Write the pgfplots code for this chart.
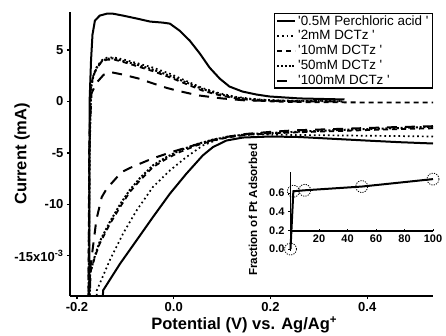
\documentclass[border=0pt]{standalone}
\usepackage{fontspec}
\setmainfont{Liberation Sans}
\usepackage{pgfplots}
\pgfplotsset{compat=1.18}
\begin{document}
\begin{tikzpicture}
\path[use as bounding box] (-70pt,-39pt) rectangle (376pt,296pt);
\begin{axis}[
  at={(0pt,0pt)}, anchor=south west,
  scale only axis, width=363pt, height=284pt,
  xmin=-0.2145, xmax=0.536, ymin=-18.9, ymax=8.7,
  axis lines=left, axis line style={-, line width=1.6pt},
  tick align=outside, major tick length=3pt, tick style={line width=1.2pt, black},
  xtick={-0.2,0,0.2,0.4}, xticklabels={-0.2,0.0,0.2,0.4},
  ytick={-15,-10,-5,0,5}, yticklabels={-15x10\textsuperscript{-3},-10,-5,0,5},
  /pgf/number format/assume math mode=true,
  ticklabel style={font=\bfseries\fontsize{13}{14}\selectfont},
  xlabel={Potential (V) vs. Ag/Ag\textsuperscript{+}},
  ylabel={Current (mA)},
  label style={font=\bfseries\fontsize{16.5}{17}\selectfont},
  xlabel style={at={(axis description cs:0.48,-0.102)}, anchor=center},
  ylabel style={at={(axis description cs:-0.132,0.5)}, anchor=center, rotate=0},
  legend style={at={(1,0.997)}, anchor=north east, draw=black, line width=1.1pt,
    font=\fontsize{13.4}{14.5}\selectfont, inner xsep=2pt, inner ysep=0pt,
    row sep=0pt},
  legend cell align=left,
  legend image code/.code={\draw[#1] (0pt,0pt) -- (18pt,0pt);},
]
% 0.5M perchloric acid
\addplot[black, line width=2pt] coordinates {
(0.536,-4.08) (0.466,-3.95) (0.397,-3.79) (0.328,-3.62) (0.26,-3.45) (0.2,-3.4)
(0.143,-3.5) (0.109,-3.79) (0.081,-4.43) (0.060,-5.24) (0.026,-7.02) (-0.008,-8.96)
(-0.043,-11.23) (-0.077,-13.5) (-0.111,-15.76) (-0.146,-18.35) (-0.152,-25)
(-0.175,-25) (-0.174,0) (-0.171,4) (-0.168,6.5) (-0.163,7.86) (-0.153,8.35)
(-0.138,8.54) (-0.126,8.54) (-0.105,8.35) (-0.076,8.06) (-0.049,7.77) (-0.023,7.67)
(-0.008,7.57) (0.012,6.89) (0.033,5.92) (0.054,4.66) (0.074,3.30) (0.095,2.23)
(0.115,1.46) (0.142,0.97) (0.171,0.68) (0.198,0.49) (0.26,0.3) (0.353,0.2)
};
\addlegendentry{\textquotesingle 0.5M Perchloric acid \textquotesingle}
% 2mM
\addplot[black, line width=1.7pt, dash pattern=on 1.7pt off 3pt] coordinates {
(0.536,-3.4) (0.45,-3.35) (0.35,-3.3) (0.25,-3.25) (0.171,-3.2) (0.129,-3.30)
(0.095,-3.62) (0.060,-4.27) (0.026,-5.4) (-0.008,-6.7) (-0.043,-8.3) (-0.077,-10.6)
(-0.105,-12.85) (-0.132,-15.4) (-0.159,-18.35) (-0.165,-25)
(-0.176,-25) (-0.174,-5) (-0.171,1.5) (-0.166,2.6) (-0.159,3.4) (-0.149,4.0)
(-0.139,4.25) (-0.125,4.3) (-0.105,4.1) (-0.077,3.75) (-0.043,3.3) (-0.008,2.7)
(0.026,2.0) (0.060,1.3) (0.095,0.8) (0.129,0.45) (0.164,0.25) (0.198,0.15)
(0.25,0.08) (0.35,0.05)
};
\addlegendentry{\textquotesingle 2mM DCTz \textquotesingle}
% 10mM
\addplot[black, line width=1.8pt, dash pattern=on 5pt off 4pt] coordinates {
(0.536,-2.6) (0.45,-2.7) (0.35,-2.85) (0.25,-3.0) (0.157,-3.2) (0.115,-3.47)
(0.081,-3.79) (0.047,-4.27) (0.012,-4.92) (-0.015,-5.56) (-0.043,-6.38) (-0.070,-7.67)
(-0.091,-8.8) (-0.111,-10.26) (-0.132,-11.9) (-0.153,-13.8) (-0.163,-15.1)
(-0.173,-16.7) (-0.176,-25)
(-0.177,-25) (-0.175,-5) (-0.172,1.2) (-0.167,2.4) (-0.160,3.2) (-0.150,3.8)
(-0.139,4.05) (-0.125,4.1) (-0.105,3.85) (-0.077,3.45) (-0.043,2.95) (-0.008,2.35)
(0.026,1.7) (0.060,1.05) (0.095,0.6) (0.129,0.3) (0.164,0.12) (0.198,0.02)
(0.25,-0.05) (0.35,-0.08) (0.45,-0.1) (0.536,-0.1)
};
\addlegendentry{\textquotesingle 10mM DCTz \textquotesingle}
% 50mM
\addplot[black, line width=2pt, dash pattern=on 2pt off 1.8pt] coordinates {
(0.536,-2.45) (0.45,-2.6) (0.35,-2.75) (0.25,-2.95) (0.157,-3.15) (0.115,-3.4)
(0.081,-3.7) (0.047,-4.15) (0.012,-4.75) (-0.015,-5.4) (-0.043,-6.2) (-0.070,-7.45)
(-0.091,-8.6) (-0.111,-10.0) (-0.132,-11.7) (-0.153,-13.6) (-0.163,-15.0)
(-0.173,-16.7) (-0.176,-25)
(-0.177,-25) (-0.174,-5) (-0.171,1.3) (-0.166,2.5) (-0.159,3.3) (-0.149,3.9)
(-0.139,4.15) (-0.125,4.2) (-0.105,3.95) (-0.077,3.6) (-0.043,3.1) (-0.008,2.5)
(0.026,1.85) (0.060,1.2) (0.095,0.7) (0.129,0.38) (0.164,0.2) (0.198,0.1)
(0.25,0.05) (0.35,0.02)
};
\addlegendentry{\textquotesingle 50mM DCTz \textquotesingle}
% 100mM
\addplot[black, line width=2pt, dash pattern=on 10pt off 8pt] coordinates {
(0.536,-2.4) (0.45,-2.5) (0.35,-2.65) (0.25,-2.8) (0.2,-2.95) (0.15,-3.15)
(0.1,-3.5) (0.06,-4.0) (0.006,-4.76) (-0.015,-5.08) (-0.036,-5.41) (-0.054,-5.73)
(-0.087,-6.38) (-0.108,-6.86) (-0.139,-8.5) (-0.149,-9.3) (-0.16,-11.5)
(-0.172,-16) (-0.176,-25)
(-0.177,-25) (-0.174,-3) (-0.17,0.8) (-0.16,1.8) (-0.145,2.6) (-0.13,2.85)
(-0.105,2.62) (-0.07,2.2) (-0.05,1.87) (-0.015,1.33) (0.006,1.07) (0.05,0.6)
(0.1,0.3) (0.15,0.1) (0.25,0.02) (0.35,0.0)
};
\addlegendentry{\textquotesingle 100mM DCTz \textquotesingle}
\end{axis}
% inset: data and y axis
\begin{axis}[
  at={(220.5pt,45.1pt)}, anchor=south west,
  scale only axis, width=142.5pt, height=78.8pt,
  xmin=0, xmax=100, ymin=-0.02, ymax=0.825,
  axis x line=none, axis y line=left, axis line style={-, line width=1.5pt},
  ytick={0,0.2,0.4,0.6}, yticklabels={0.0,0.2,0.4,0.6},
  tick align=outside, major tick length=2.5pt, tick style={line width=1pt, black},
  /pgf/number format/assume math mode=true,
  ticklabel style={font=\bfseries\fontsize{11}{12}\selectfont},
  clip=false,
  ylabel={Fraction of Pt Adsorbed},
  ylabel style={at={(axis description cs:-0.263,0.52)}, anchor=center, font=\bfseries\fontsize{11.6}{12}\selectfont},
  xlabel={Concentration of DCTz (mM)},
  xlabel style={at={(axis description cs:0.558,-0.2)}, anchor=center, font=\bfseries\fontsize{10.8}{11}\selectfont},
]
\addplot[black, line width=2pt, mark=o, mark size=6pt,
  mark options={solid, dash pattern=on 1.2pt off 1.2pt, line width=0.8pt, fill=none}]
  coordinates {(0,0.0) (2,0.62) (10,0.63) (50,0.67) (100,0.75)};
\end{axis}
% inset: x axis
\begin{axis}[
  at={(220.5pt,65pt)}, anchor=south west,
  scale only axis, width=142.5pt, height=20pt,
  xmin=0, xmax=100, ymin=0, ymax=1,
  axis x line=bottom, axis y line=none, axis line style={-, line width=1.5pt},
  xtick={20,40,60,80,100},
  tick align=inside, major tick length=2.5pt, tick style={line width=1pt, black},
  /pgf/number format/assume math mode=true,
  ticklabel style={font=\bfseries\fontsize{11}{12}\selectfont},
]
\end{axis}
\end{tikzpicture}
\end{document}
